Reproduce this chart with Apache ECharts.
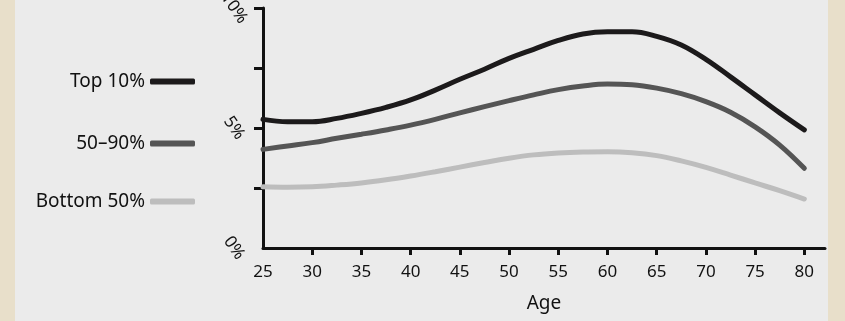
<!DOCTYPE html>
<html>
<head>
<meta charset="utf-8">
<script src="https://cdn.jsdelivr.net/npm/echarts@6/dist/echarts.min.js"></script>
<style>html,body{margin:0;padding:0;}#c{width:845px;height:321px;}</style>
</head>
<body>
<div id="c"></div>
<script>
var ages = [25, 27.5, 30, 32.5, 35, 37.5, 40, 42.5, 45, 47.5, 50, 52.5, 55, 57.5, 60, 62.5, 65, 67.5, 70, 72.5, 75, 77.5, 80];
var top10 = [5.36, 5.26, 5.26, 5.40, 5.61, 5.86, 6.17, 6.58, 7.03, 7.45, 7.90, 8.28, 8.65, 8.92, 9.01, 9.01, 8.82, 8.46, 7.86, 7.13, 6.38, 5.63, 4.92];
var mid50to90 = [4.11, 4.25, 4.39, 4.57, 4.74, 4.92, 5.12, 5.36, 5.63, 5.89, 6.14, 6.38, 6.60, 6.75, 6.83, 6.80, 6.66, 6.43, 6.10, 5.66, 5.05, 4.29, 3.32];
var bottom50 = [2.55, 2.53, 2.55, 2.62, 2.71, 2.84, 3.00, 3.18, 3.37, 3.56, 3.74, 3.88, 3.96, 4.00, 4.01, 3.97, 3.85, 3.63, 3.36, 3.04, 2.71, 2.39, 2.04];
var seriesNames = ['Top 10%', '50–90%', 'Bottom 50%'];
var xTicks = [25, 30, 35, 40, 45, 50, 55, 60, 65, 70, 75, 80];
var yTicks = [0, 2.5, 5, 7.5, 10];
var yLabels = [0, 5, 10];

function pairs(vals) { return ages.map(function (a, i) { return [a, vals[i]]; }); }

var FONT = '"Noto Sans", sans-serif';
var colors = ['#1c1a1b', '#555555', '#bdbdbd'];
var chart = echarts.init(document.getElementById('c'));

function legendFor(i, top) {
  return {
    data: [seriesNames[i]], right: 650, top: top, padding: 0,
    align: 'right', icon: 'roundRect', itemWidth: 45, itemHeight: 6,
    selectedMode: false,
    textStyle: { fontFamily: FONT, fontSize: 19, color: '#111' }
  };
}

chart.setOption({
  backgroundColor: '#e8dfca',
  animation: false,
  graphic: [{ type: 'rect', z: -100, shape: { x: 15, y: 0, width: 813, height: 321 }, style: { fill: '#ebebeb' } }],
  legend: [legendFor(0, 72), legendFor(1, 134), legendFor(2, 192)],
  grid: { left: 263, top: 8, width: 562, height: 240, containLabel: false, outerBoundsMode: 'none' },
  xAxis: {
    type: 'value', min: 25, max: 82.1,
    name: 'Age', nameLocation: 'middle', nameGap: 46,
    nameTextStyle: { fontFamily: FONT, fontSize: 19, color: '#111' },
    axisLine: { show: true, lineStyle: { color: '#111', width: 3 } },
    axisTick: { show: true, length: 7, lineStyle: { color: '#111', width: 3 }, customValues: xTicks.slice(1) },
    axisLabel: { customValues: xTicks, margin: 16, fontFamily: FONT, fontSize: 17, color: '#111' },
    splitLine: { show: false }
  },
  yAxis: {
    type: 'value', min: 0, max: 10, interval: 2.5,
    axisLine: { show: true, lineStyle: { color: '#111', width: 3 } },
    axisTick: { show: true, length: 9, lineStyle: { color: '#111', width: 3 }, customValues: yTicks.slice(1) },
    axisLabel: { customValues: yLabels, rotate: -55, margin: 29, align: 'center', verticalAlign: 'middle',
                 fontFamily: FONT, fontSize: 17, color: '#111',
                 formatter: function (v) { return v + '%'; } },
    splitLine: { show: false }
  },
  series: [top10, mid50to90, bottom50].map(function (vals, i) {
    return {
      name: seriesNames[i], type: 'line', smooth: 0.4, showSymbol: false, symbol: 'none',
      data: pairs(vals), color: colors[i],
      lineStyle: { width: 5, color: colors[i], cap: 'round' }
    };
  })
});
</script>
</body>
</html>
